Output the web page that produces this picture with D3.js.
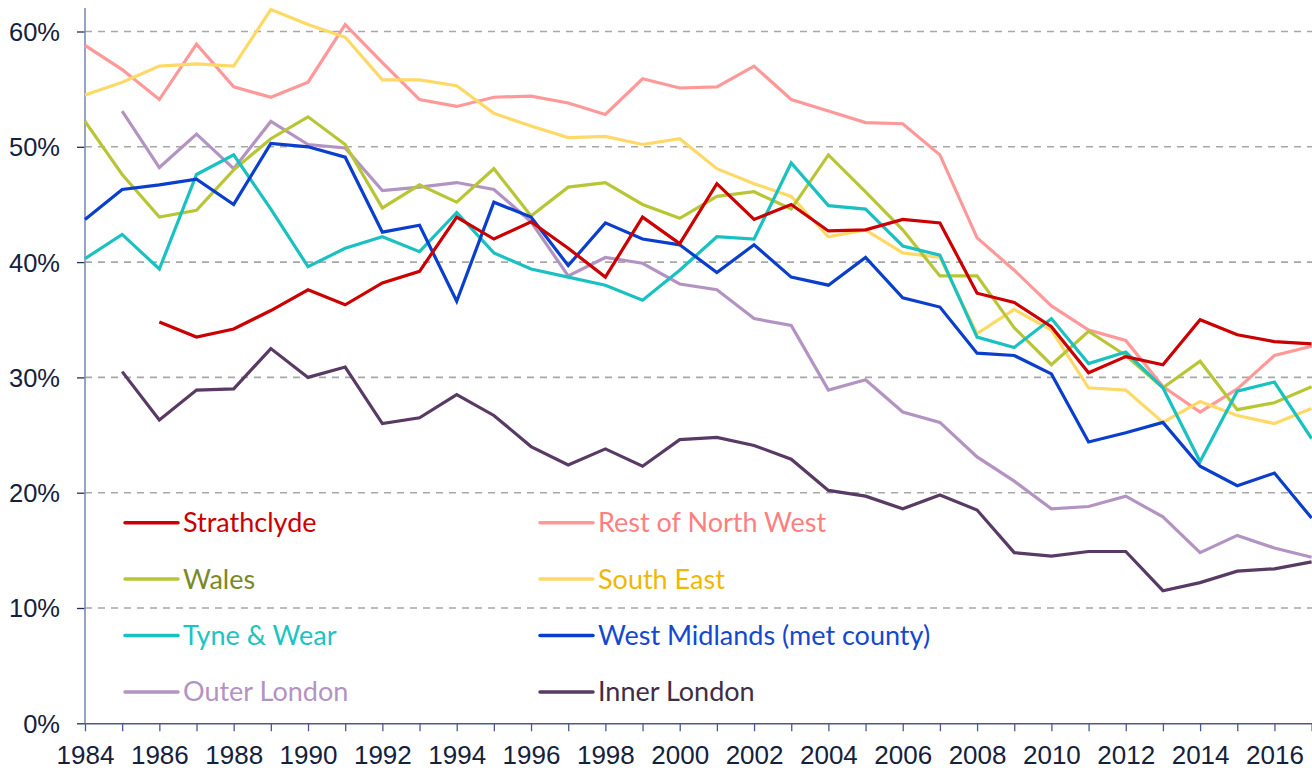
<!DOCTYPE html>
<html>
<head>
<meta charset="utf-8">
<script src="https://cdn.jsdelivr.net/npm/d3@7"></script>
<style>
  html, body { margin: 0; padding: 0; background: #fff; }
  svg { display: block; font-family: Lato, "Open Sans", sans-serif; }
</style>
</head>
<body>
<svg id="chart" width="1312" height="770"></svg>
<script>
// 연도별 비율 (%), 그림에서 읽은 값
const years = d3.range(1984, 2018);

const strathclyde = [null, null, 34.8, 33.5, 34.2, 35.8, 37.6, 36.3, 38.2, 39.2, 43.9, 42.0, 43.5, 41.2, 38.7, 43.9, 41.6,
  46.8, 43.7, 45.0, 42.7, 42.8, 43.7, 43.4, 37.3, 36.5, 34.4, 30.4, 31.8, 31.1, 35.0, 33.7, 33.1, 32.9];
const restNorthWest = [58.8, 56.7, 54.1, 58.9, 55.2, 54.3, 55.6, 60.6, 57.3, 54.1, 53.5, 54.3, 54.4, 53.8, 52.8, 55.9, 55.1,
  55.2, 57.0, 54.1, 53.1, 52.1, 52.0, 49.3, 42.1, 39.3, 36.2, 34.1, 33.2, 29.2, 27.0, 29.0, 31.9, 32.7];
const wales = [52.2, 47.6, 43.9, 44.5, 48.0, 50.7, 52.6, 50.2, 44.7, 46.7, 45.2, 48.1, 44.0, 46.5, 46.9, 45.0, 43.8,
  45.7, 46.1, 44.6, 49.3, 46.1, 42.8, 38.8, 38.8, 34.3, 31.1, 34.0, 31.9, 29.1, 31.4, 27.2, 27.8, 29.2];
const southEast = [54.5, 55.6, 57.0, 57.2, 57.0, 61.9, 60.6, 59.5, 55.8, 55.8, 55.3, 52.9, 51.8, 50.8, 50.9, 50.2, 50.7,
  48.1, 46.8, 45.7, 42.2, 42.8, 40.8, 40.4, 33.8, 35.9, 34.1, 29.1, 28.9, 26.1, 27.9, 26.7, 26.0, 27.3];
const tyneWear = [40.3, 42.4, 39.4, 47.6, 49.3, 44.6, 39.6, 41.2, 42.2, 40.9, 44.3, 40.8, 39.4, 38.7, 38.0, 36.7, 39.3,
  42.2, 42.0, 48.6, 44.9, 44.6, 41.4, 40.6, 33.5, 32.6, 35.1, 31.2, 32.2, 29.1, 22.7, 28.8, 29.6, 24.7];
const westMidlands = [43.7, 46.3, 46.7, 47.2, 45.0, 50.3, 50.0, 49.1, 42.6, 43.2, 36.6, 45.2, 43.9, 39.7, 43.4, 42.0, 41.5,
  39.1, 41.5, 38.7, 38.0, 40.4, 36.9, 36.1, 32.1, 31.9, 30.3, 24.4, 25.2, 26.1, 22.3, 20.6, 21.7, 17.8];
const outerLondon = [null, 53.1, 48.2, 51.1, 48.1, 52.2, 50.2, 49.9, 46.2, 46.5, 46.9, 46.3, 43.5, 38.8, 40.4, 39.9, 38.1,
  37.6, 35.1, 34.5, 28.9, 29.8, 27.0, 26.1, 23.1, 21.0, 18.6, 18.8, 19.7, 17.9, 14.8, 16.3, 15.2, 14.4];
const innerLondon = [null, 30.5, 26.3, 28.9, 29.0, 32.5, 30.0, 30.9, 26.0, 26.5, 28.5, 26.7, 24.0, 22.4, 23.8, 22.3, 24.6,
  24.8, 24.1, 22.9, 20.2, 19.7, 18.6, 19.8, 18.5, 14.8, 14.5, 14.9, 14.9, 11.5, 12.2, 13.2, 13.4, 14.0];

const yTicks = [0, 10, 20, 30, 40, 50, 60];

// 범례 순서 (왼쪽 열, 오른쪽 열 번갈아)
const series = [
  { name: 'Strathclyde', values: strathclyde, line: '#cc0000', text: '#cc0000' },
  { name: 'Rest of North West', values: restNorthWest, line: '#ff9999', text: '#ff7f7f' },
  { name: 'Wales', values: wales, line: '#b8c635', text: '#7a8a26' },
  { name: 'South East', values: southEast, line: '#ffd966', text: '#f0b800' },
  { name: 'Tyne & Wear', values: tyneWear, line: '#19c1c1', text: '#1cc4c4' },
  { name: 'West Midlands (met county)', values: westMidlands, line: '#0a3ecc', text: '#1448d0' },
  { name: 'Outer London', values: outerLondon, line: '#b393c2', text: '#b393c2' },
  { name: 'Inner London', values: innerLondon, line: '#583a64', text: '#3f2d46' },
];
// 그리는 순서 (아래 → 위)
const drawOrder = ['Inner London', 'Outer London', 'Rest of North West', 'South East', 'Wales',
  'Tyne & Wear', 'West Midlands (met county)', 'Strathclyde'];

const svg = d3.select('#chart');
const x = d3.scaleLinear().domain([1984, 2017]).range([85, 1311.6]);
const y = d3.scaleLinear().domain([0, 60]).range([723.3, 31.5]);

// 점선 격자
svg.append('g')
  .selectAll('line')
  .data(yTicks.filter(d => d > 0))
  .join('line')
  .attr('x1', 85).attr('x2', 1312)
  .attr('y1', d => y(d)).attr('y2', d => y(d))
  .attr('stroke', '#a8a8a8').attr('stroke-width', 1.6)
  .attr('stroke-dasharray', '7 6');

// y축
const yAxis = svg.append('g')
  .attr('transform', 'translate(85,0)')
  .call(d3.axisLeft(y).tickValues(yTicks).tickSize(8).tickSizeOuter(0).tickFormat(d => d + '%'));
yAxis.select('.domain').remove();
yAxis.selectAll('.tick line').attr('stroke', '#1f2d5c').attr('stroke-width', 1.3);
yAxis.selectAll('.tick text')
  .attr('x', -25).attr('dy', '0.35em')
  .attr('fill', '#14213d').attr('font-size', 25.5);
svg.append('line')
  .attr('x1', 85).attr('x2', 85).attr('y1', 8).attr('y2', 723.3)
  .attr('stroke', '#7f8db5').attr('stroke-width', 1.6);

// x축
const xAxis = svg.append('g')
  .attr('transform', `translate(0,${y(0)})`)
  .call(d3.axisBottom(x).tickValues(years).tickSize(8).tickSizeOuter(0)
    .tickFormat(d => d % 2 === 0 ? String(d) : ''));
xAxis.select('.domain').attr('stroke', '#4a5a8c').attr('stroke-width', 1.6);
xAxis.selectAll('.tick line').attr('stroke', '#4a5a8c').attr('stroke-width', 1.3);
xAxis.selectAll('.tick text')
  .attr('y', 22).attr('dy', '0.71em')
  .attr('fill', '#14213d').attr('font-size', 26);

// 선
const line = d3.line()
  .defined(d => d.v !== null)
  .x(d => x(d.year))
  .y(d => y(d.v));

const byName = new Map(series.map(s => [s.name, s]));
svg.append('g')
  .selectAll('path')
  .data(drawOrder.map(n => byName.get(n)))
  .join('path')
  .attr('d', s => line(years.map((yr, i) => ({ year: yr, v: s.values[i] }))))
  .attr('fill', 'none')
  .attr('stroke', s => s.line)
  .attr('stroke-width', 3.2)
  .attr('stroke-linejoin', 'miter');

// 범례
const legend = svg.append('g');
const item = legend.selectAll('g')
  .data(series)
  .join('g')
  .attr('transform', (d, i) => `translate(${i % 2 === 0 ? 125 : 540},${522.7 + Math.floor(i / 2) * 56.4})`);
item.append('line')
  .attr('x1', 0).attr('x2', 53)
  .attr('stroke', d => d.line).attr('stroke-width', 3.5).attr('stroke-linecap', 'round');
item.append('text')
  .attr('x', 58).attr('dy', '0.35em')
  .attr('fill', d => d.text).attr('font-size', 27)
  .text(d => d.name);
</script>
</body>
</html>
